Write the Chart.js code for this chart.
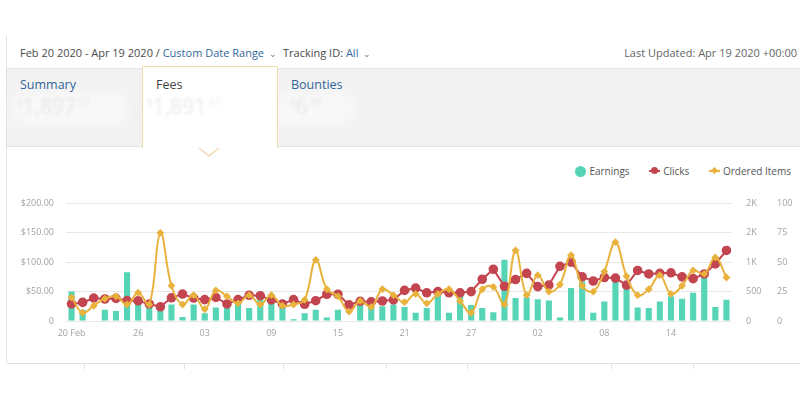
<!DOCTYPE html>
<html>
<head>
<meta charset="utf-8">
<script src="https://cdn.jsdelivr.net/npm/chart.js@4.4.0/dist/chart.umd.min.js"></script>
<style>
body { margin: 0; width: 800px; height: 400px; background: #fff; font-family: "Open Sans", sans-serif; position: relative; overflow: hidden; }
.abs { position: absolute; }
#leftline { left: 6px; top: 36px; width: 1px; height: 327px; background: #e2e2e2; }
#header { left: 20px; top: 45px; font-size: 11px; color: #4a4a4a; white-space: nowrap; }
#header .blue { color: #33679b; }
#header .chev { color: #777; font-size: 9px; margin: 0 6px 0 5px; }
#updated { right: 3px; top: 45px; font-size: 11px; color: #666; white-space: nowrap; }
#band { left: 7px; top: 68px; width: 793px; height: 77px; background: #f2f2f2; border-top: 1px solid #e6e6e6; border-bottom: 1px solid #e2e2e2; }
.smudge { background: #f8f8f8; filter: blur(7px); border-radius: 6px; }
.tab { top: 76px; font-size: 12.5px; color: #31659a; }
.amount { top: 92px; font-size: 21px; color: #e6e6e6; filter: blur(1.6px); white-space: nowrap; }
.amount sup { font-size: 10px; }
#feesbox { left: 142px; top: 66px; width: 134px; height: 81px; background: #fff; border: 1px solid #f1dcb2; border-bottom: none; }
#ptrOuter { left: 198px; top: 148px; width: 0; height: 0; border-left: 11px solid transparent; border-right: 11px solid transparent; border-top: 9px solid #f1dcb2; }
#ptrInner { left: 199px; top: 147px; width: 0; height: 0; border-left: 10px solid transparent; border-right: 10px solid transparent; border-top: 8px solid #fff; }
#legend { right: 9px; top: 164px; font-size: 10px; color: #555; white-space: nowrap; }
#legend span.item { margin-left: 17px; }
.dot { display: inline-block; width: 11px; height: 11px; border-radius: 50%; vertical-align: -2px; margin-right: 3px; }
.lmark { display: inline-block; position: relative; width: 11px; height: 2px; vertical-align: 3px; margin-right: 3px; }
.lmark i { position: absolute; left: 2px; top: -3px; width: 7px; height: 7px; border-radius: 50%; }
.lmark i.dia { left: 3px; top: -2px; width: 5px; height: 5px; border-radius: 0; transform: rotate(45deg); }
#chartwrap { left: 0; top: 184px; width: 800px; height: 176px; }
#bottomline { left: 7px; top: 363px; width: 793px; height: 1px; background: #e0e0e0; }
.sep { top: 363px; width: 1px; height: 6px; background: #e0e0e0; }
</style>
</head>
<body>
<div id="leftline" class="abs"></div>
<div id="header" class="abs">Feb 20 2020 - Apr 19 2020 / <span class="blue">Custom Date Range</span><span class="chev">&#8964;</span>Tracking ID: <span class="blue">All</span><span class="chev">&#8964;</span></div>
<div id="updated" class="abs">Last Updated: Apr 19 2020 +00:00</div>

<div id="band" class="abs"></div>
<div class="abs smudge" style="left:12px;top:92px;width:115px;height:34px;"></div>
<div class="abs smudge" style="left:275px;top:92px;width:80px;height:34px;"></div>
<div class="abs tab" style="left:20px;">Summary</div>
<div class="abs amount" style="left:17px;"><sup>$</sup>1,897<sup>.57</sup></div>

<div id="feesbox" class="abs"></div>
<div id="ptrOuter" class="abs"></div>
<div id="ptrInner" class="abs"></div>
<div class="abs tab" style="left:156px;color:#444;">Fees</div>
<div class="abs amount" style="left:147px;color:#e9e9e9;"><sup>$</sup>1,891<sup>.57</sup></div>

<div class="abs tab" style="left:291px;">Bounties</div>
<div class="abs amount" style="left:290px;"><sup>$</sup>6<sup>.00</sup></div>

<div id="legend" class="abs">
  <span class="item"><span class="dot" style="background:#55d5b6"></span>Earnings</span>
  <span class="item"><span class="lmark" style="background:#c2454f"><i style="background:#c2454f"></i></span>Clicks</span>
  <span class="item"><span class="lmark" style="background:#e9b23c"><i class="dia" style="background:#e9b23c"></i></span>Ordered Items</span>
</div>

<div id="chartwrap" class="abs"><canvas id="chart" width="800" height="176"></canvas></div>

<div id="bottomline" class="abs"></div>
<div class="abs sep" style="left:84px"></div>
<div class="abs sep" style="left:184px"></div>
<div class="abs sep" style="left:283px"></div>
<div class="abs sep" style="left:386px"></div>
<div class="abs sep" style="left:467px"></div>
<div class="abs sep" style="left:611px"></div>
<div class="abs sep" style="left:693px"></div>

<script>
// 20 Feb 2020 .. 19 Apr 2020, one bar per day
const days = ['20','21','22','23','24','25','26','27','28','29',
    '01','02','03','04','05','06','07','08','09','10','11','12','13','14','15','16','17','18','19','20',
    '21','22','23','24','25','26','27','28','29','30','31',
    '01','02','03','04','05','06','07','08','09','10','11','12','13','14','15','16','17','18','19'];
const tickLabels = ['20 Feb', '26', '03', '09', '15', '21', '27', '02', '08', '14'];

const earnings = [50, 19, 0, 19, 17, 83, 32, 23, 18, 28, 7, 28, 13, 23, 22, 30, 22, 38, 32, 22,
    3, 13, 19, 6, 19, 0, 32, 24, 25, 28, 24, 14, 22, 46, 14, 44, 27, 22, 15, 104,
    39, 40, 37, 35, 6, 56, 67, 14, 33, 69, 57, 23, 22, 33, 42, 38, 48, 73, 24, 36];
const clicks = [290, 316, 390, 374, 384, 347, 342, 290, 242, 395, 458, 390, 363, 400, 290, 363, 437, 430, 360, 290,
    365, 285, 345, 455, 455, 275, 335, 325, 340, 360, 520, 560, 480, 500, 480, 480, 500, 710, 880, 590,
    705, 810, 585, 610, 930, 1000, 750, 680, 740, 730, 610, 860, 800, 810, 820, 750, 720, 800, 970, 1200];
const orderedItems = [20, 7, 13, 19, 21, 14, 24, 14, 75, 30, 14, 22, 10, 26, 21, 15, 22, 14, 22, 13,
    14, 18, 52, 27, 21, 8, 17, 12, 27, 22, 16, 23, 15, 23, 27, 17, 7, 27, 29, 14,
    60, 22, 39, 25, 31, 56, 30, 25, 42, 67, 38, 22, 27, 39, 23, 30, 43, 40, 54, 37];

const tickColor = '#a3a3a3';
const tickFont = { family: '"Open Sans", sans-serif', size: 9 };

const ctx = document.getElementById('chart').getContext('2d');
const chart = new Chart(ctx, {
    type: 'bar',
    data: {
        labels: days,
        datasets: [{
            type: 'line',
            label: 'Ordered Items',
            data: orderedItems,
            yAxisID: 'yItems',
            borderColor: '#e9b23c',
            backgroundColor: '#e9b23c',
            borderWidth: 2,
            tension: 0.4,
            pointStyle: 'rectRot',
            pointRadius: 2.5,
            order: 1
        }, {
            type: 'line',
            label: 'Clicks',
            data: clicks,
            yAxisID: 'yClicks',
            borderColor: '#c2454f',
            backgroundColor: '#c2454f',
            borderWidth: 2,
            tension: 0,
            pointRadius: 3.8,
            order: 2
        }, {
            label: 'Earnings',
            data: earnings,
            yAxisID: 'y',
            backgroundColor: '#55d5b6',
            barPercentage: 0.55,
            categoryPercentage: 1,
            order: 3
        }]
    },
    options: {
        responsive: false,
        animation: false,
        layout: { padding: { top: 10, bottom: 9, left: 0, right: 0 } },
        plugins: { legend: { display: false }, tooltip: { enabled: false } },
        scales: {
            x: {
                grid: { display: false, drawTicks: false },
                border: { display: false },
                ticks: {
                    autoSkip: false, maxRotation: 0, padding: 7, color: tickColor, font: tickFont,
                    callback: (v, i) => i % 6 === 0 ? tickLabels[i / 6] : ''
                },
                afterFit: s => { s.height = 30; }
            },
            y: {
                position: 'left', min: 0, max: 200,
                grid: { color: '#e7e7e7', drawTicks: false },
                border: { display: false },
                ticks: {
                    stepSize: 50, padding: 12, color: tickColor, font: tickFont,
                    callback: v => v === 0 ? '0' : '$' + v.toFixed(2)
                },
                afterFit: s => { s.width = 66; }
            },
            yClicks: {
                position: 'right', min: 0, max: 2000,
                grid: { display: false, drawTicks: false },
                border: { display: false },
                ticks: {
                    stepSize: 500, padding: 14, color: tickColor, font: tickFont,
                    callback: v => v >= 1000 ? Math.round(v / 1000) + 'K' : v
                },
                afterFit: s => { s.width = 38; }
            },
            yItems: {
                position: 'right', min: 0, max: 100,
                grid: { display: false, drawTicks: false },
                border: { display: false },
                ticks: { stepSize: 25, padding: 7, color: tickColor, font: tickFont },
                afterFit: s => { s.width = 30; }
            }
        }
    }
});
</script>
</body>
</html>
